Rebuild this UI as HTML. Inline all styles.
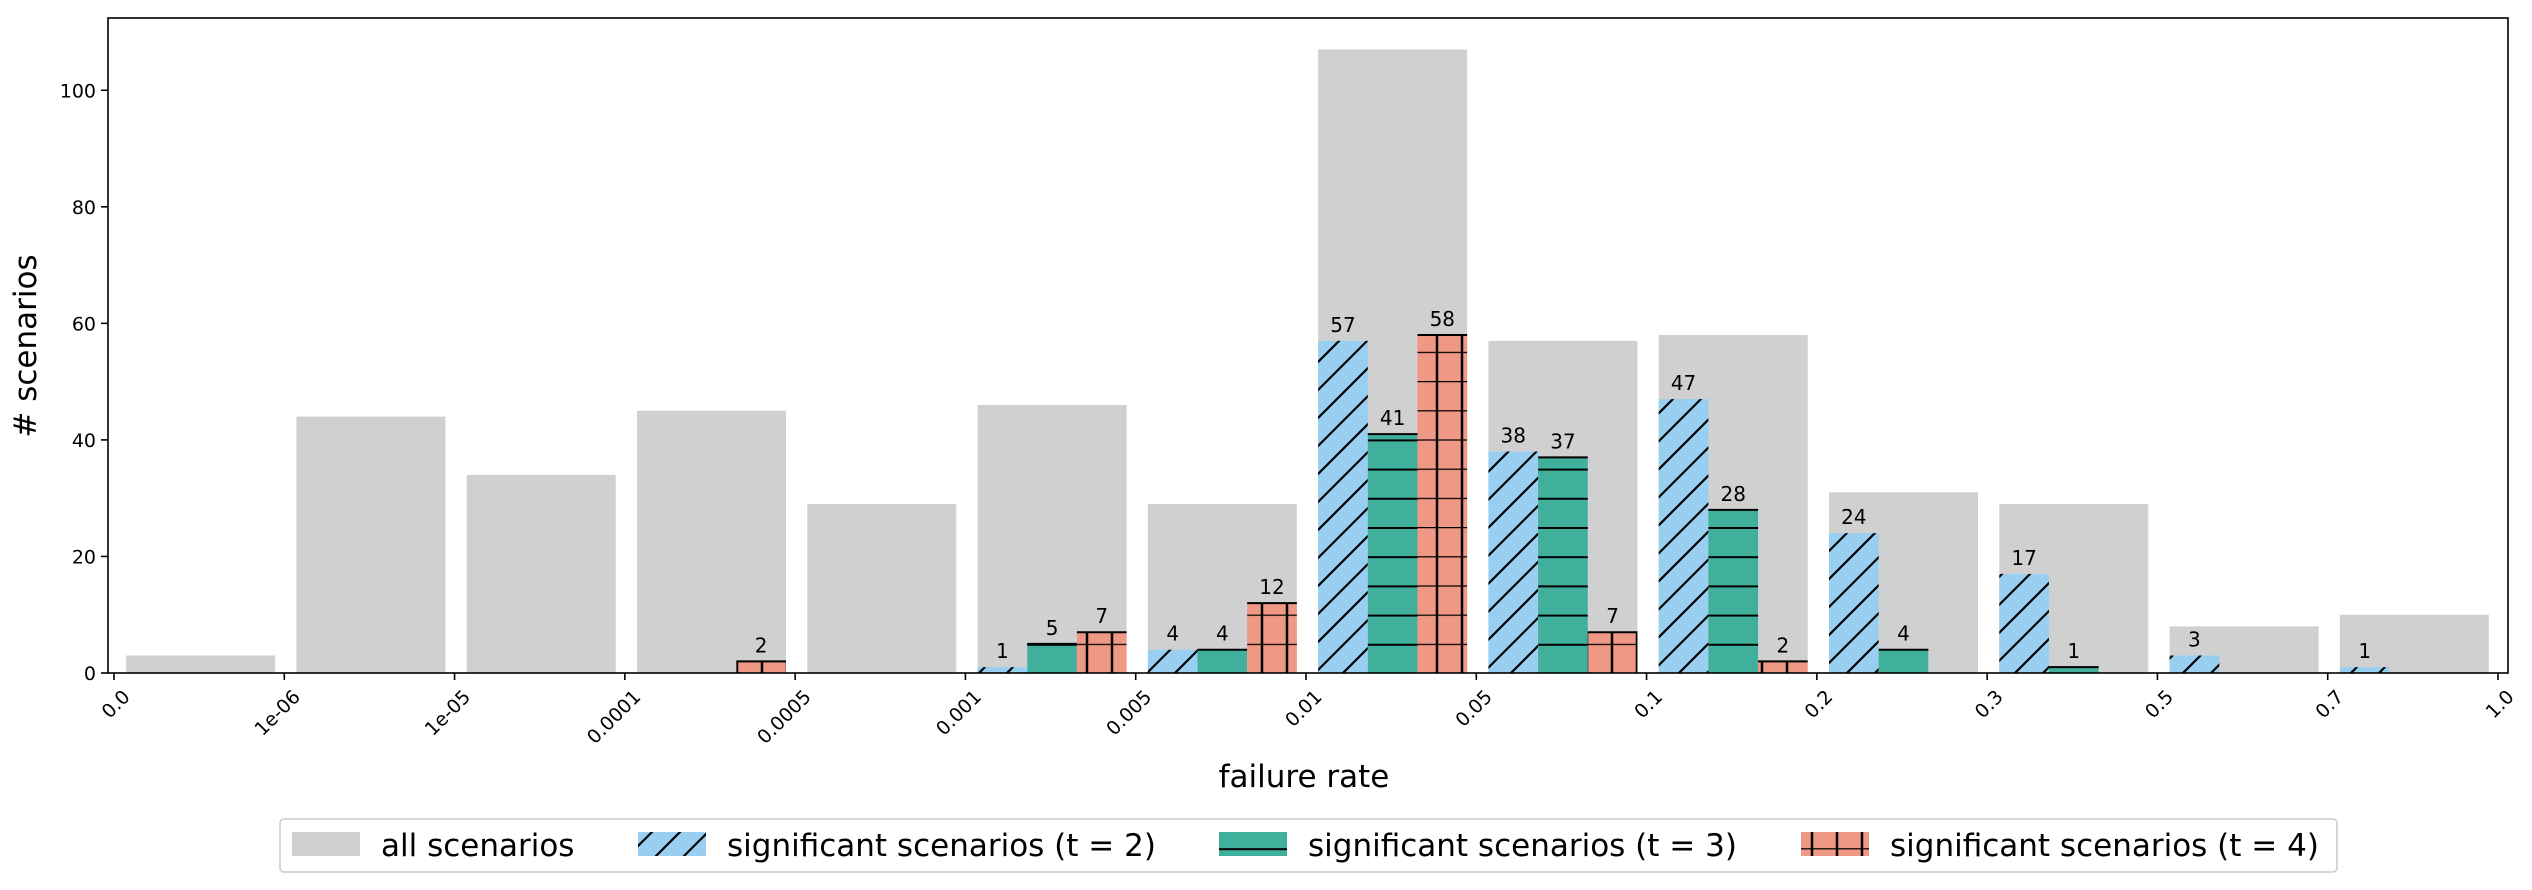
<!DOCTYPE html>
<html><head><meta charset="utf-8"><style>body{margin:0;background:#fff}svg{display:block;font-family:"DejaVu Sans","Liberation Sans",sans-serif}</style></head>
<body>
<svg id="chart" width="2532" height="890" viewBox="0 0 2532 890" xmlns="http://www.w3.org/2000/svg">
<defs>
<pattern id="hBlue" patternUnits="userSpaceOnUse" width="28" height="28"><rect width="28" height="28" fill="#98cff0"/><path d="M-7,7 L7,-7 M0,28 L28,0 M21,35 L35,21" stroke="#000" stroke-width="2.2"/></pattern>
<pattern id="hGreen" patternUnits="userSpaceOnUse" width="28" height="29.2" y="673"><rect width="28" height="29.2" fill="#40b09c"/><path d="M0,0 L28,0" stroke="#000" stroke-width="4"/></pattern>
<pattern id="hRed" patternUnits="userSpaceOnUse" width="25" height="29.2" y="673"><rect width="25" height="29.2" fill="#f09886"/><path d="M0,0 L25,0 M12,0 L12,29.2" stroke="#000" stroke-width="2.5"/></pattern>
</defs>
<g id="plot"></g>
</svg>
<script>
const tickLabels = ["0.0","1e-06","1e-05","0.0001","0.0005","0.001","0.005","0.01","0.05","0.1","0.2","0.3","0.5","0.7","1.0"];
const allScenarios = [3,44,34,45,29,46,29,107,57,58,31,29,8,10];
const sigT2 = [0,0,0,0,0,1,4,57,38,47,24,17,3,1];
const sigT3 = [0,0,0,0,0,5,4,41,37,28,4,1,0,0];
const sigT4 = [0,0,0,2,0,7,12,58,7,2,0,0,0,0];
const yTicks = [0,20,40,60,80,100];

const NS = "http://www.w3.org/2000/svg";
const L = 108, R = 2508, T = 18, B = 673;
const x0 = 114, step = (2498 - 114) / 14;
const yMax = 112.4;
const xs = i => x0 + i * step;
const ys = v => B - v / yMax * (B - T);
const g = document.getElementById('plot');
function el(tag, attrs, parent) {
  const e = document.createElementNS(NS, tag);
  for (const k in attrs) e.setAttribute(k, attrs[k]);
  (parent || g).appendChild(e);
  return e;
}
const grayW = step * 0.875;
const off = (step - grayW) / 2 + 1.5;
allScenarios.forEach((v, i) => {
  const r = el('rect', {x: xs(i) + off, y: ys(v), width: grayW, height: B - ys(v), fill: '#d0d0d0'});
  
  
});
const series = [[sigT2, 'url(#hBlue)', 'significant-t2'], [sigT3, 'url(#hGreen)', 'significant-t3'], [sigT4, 'url(#hRed)', 'significant-t4']];
series.forEach((s, k) => {
  s[0].forEach((v, i) => {
    if (!v) return;
    const bw = grayW / 3;
    const bx = xs(i) + off + k * bw;
    const r = el('rect', {x: bx, y: ys(v), width: bw, height: B - ys(v), fill: s[1]});
    
    
    if (k > 0) el('line', {x1: bx, x2: bx + bw, y1: ys(v), y2: ys(v), stroke: '#000', 'stroke-width': 2});
    const t = el('text', {x: bx + bw / 2, y: ys(v) - 9, 'text-anchor': 'middle', 'font-size': 20});
    t.textContent = v;
    
    
  });
});
const fr = el('rect', {x: L, y: T, width: R - L, height: B - T, fill: 'none', stroke: '#000', 'stroke-width': 1.6});


yTicks.forEach(v => {
  el('line', {x1: L - 7, x2: L, y1: ys(v), y2: ys(v), stroke: '#000', 'stroke-width': 1.6});
  const t = el('text', {x: L - 12, y: ys(v) + 7, 'text-anchor': 'end', 'font-size': 19});
  t.textContent = v;
  
  
});
tickLabels.forEach((lab, i) => {
  el('line', {x1: xs(i), x2: xs(i), y1: B, y2: B + 7, stroke: '#000', 'stroke-width': 1.6});
  const tx = xs(i) + 17, ty = B + 25;
  const t = el('text', {x: tx, y: ty, 'text-anchor': 'end', 'font-size': 19, transform: `rotate(-45 ${tx} ${ty})`});
  t.textContent = lab;
  
  
});
const xt = el('text', {x: 1304, y: 787, 'text-anchor': 'middle', 'font-size': 31});
xt.textContent = 'failure rate';


const yt = el('text', {x: 36, y: 346, 'text-anchor': 'middle', 'font-size': 31, transform: 'rotate(-90 36 346)'});
yt.textContent = '# scenarios';


const lg = el('g', {});


el('rect', {x: 280, y: 819, width: 2057, height: 53, rx: 4, fill: '#fff', stroke: '#ccc', 'stroke-width': 1.6}, lg);
const entries = [['all scenarios', '#d0d0d0', 292, 381], ['significant scenarios (t = 2)', 'url(#hBlue)', 638, 727], ['significant scenarios (t = 3)', 'url(#hGreen)', 1219, 1308], ['significant scenarios (t = 4)', 'url(#hRed)', 1801, 1890]];
entries.forEach(e => {
  const h = el('rect', {x: e[2], y: 832, width: 68, height: 24, fill: e[1]}, lg);
  
  
  const t = el('text', {x: e[3], y: 856, 'font-size': 31}, lg);
  t.textContent = e[0];
  
  
});
</script>
</body></html>
